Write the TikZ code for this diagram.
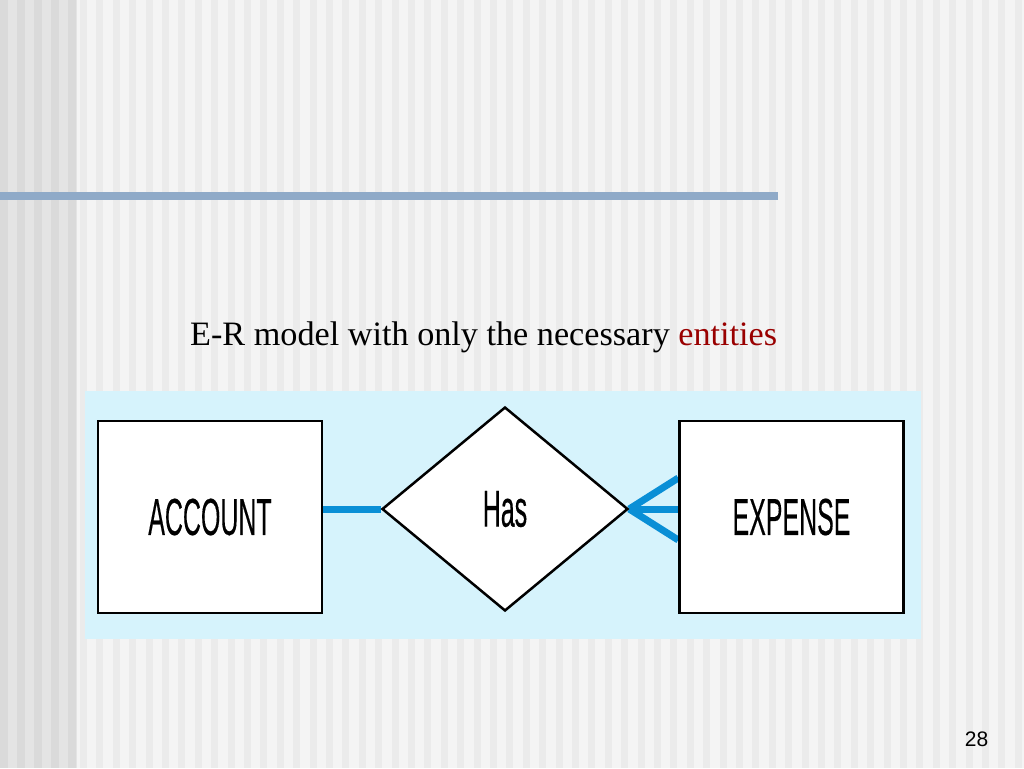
\documentclass[tikz,border=0pt]{standalone}
\usepackage{fontspec}
\setmainfont{Liberation Serif}
\newfontfamily\lsans{Liberation Sans}
\newfontfamily\lsansfb[FakeBold=0.4]{Liberation Sans}
\usepackage{graphicx}
\usetikzlibrary{shapes.geometric,calc}
\definecolor{bgbase}{HTML}{F4F4F4}
\definecolor{bgstripe}{HTML}{EBEBEB}
\definecolor{lbase}{HTML}{E4E4E4}
\definecolor{lstripe}{HTML}{DADADA}
\definecolor{rule}{HTML}{8FAAC8}
\definecolor{panel}{HTML}{D6F3FC}
\definecolor{connblue}{HTML}{0A8FD6}
\definecolor{darkred}{HTML}{990000}
\pgfdeclarelayer{bg}
\pgfdeclarelayer{links}
\pgfsetlayers{bg,links,main}
\tikzset{
  entity/.style={draw=black, line width=2.5pt, fill=white, minimum width=224pt, minimum height=192pt, inner sep=0pt},
  relation/.style={draw=black, line width=2.5pt, fill=white, diamond, minimum width=246pt, minimum height=204pt, inner sep=0pt},
  conn/.style={draw=connblue, line width=7pt},
  erlabel/.style={font=\lsansfb\fontsize{52}{52}\selectfont},
}
\newcommand{\cnd}[1]{\scalebox{0.48}[1]{#1}}
\begin{document}
\begin{tikzpicture}[x=1pt,y=-1pt]
\useasboundingbox (0,0) rectangle (1024,768);
\begin{pgfonlayer}{bg}
  \fill[bgbase] (0,0) rectangle (1024,768);
  \foreach \i in {0,...,57} {
    \fill[bgstripe] ({80+\i*16.4},0) rectangle ({87+\i*16.4},768);
  }
  \fill[lbase] (0,0) rectangle (77,768);
  \foreach \i in {0,...,4} {
    \fill[lstripe] ({\i*17},0) rectangle ({\i*17+8},768);
  }
  \fill[rule] (0,192) rectangle (778,200);
  \fill[panel] (85,391) rectangle (921,639);
\end{pgfonlayer}

\node[anchor=base west, inner sep=0pt, font=\fontsize{34.2}{34.2}\selectfont] (title) at (190,345)
  {E-R model with only the necessary \textcolor{darkred}{entities}};

\node[entity, erlabel] (acc) at (210,517) {\cnd{ACCOUNT}};
\node[relation, erlabel] (has) at (505,509) {\cnd{Has}};
\node[entity, erlabel] (exp) at (791.5,517) {\cnd{EXPENSE}};

\coordinate (ftop) at ([yshift=39pt]exp.west);
\coordinate (fbot) at ([yshift=-23pt]exp.west);

\begin{pgfonlayer}{links}
  \draw[conn] (acc.east |- has.west) -- (has.west);
  \draw[conn] (has.east) -- (ftop);
  \draw[conn] (has.east) -- (exp.west |- has.east);
  \draw[conn] (has.east) -- (fbot);
\end{pgfonlayer}

\node[anchor=base, inner sep=0pt, font=\lsans\fontsize{21}{21}\selectfont] (pg) at (976.5,746) {28};
\end{tikzpicture}
\end{document}
